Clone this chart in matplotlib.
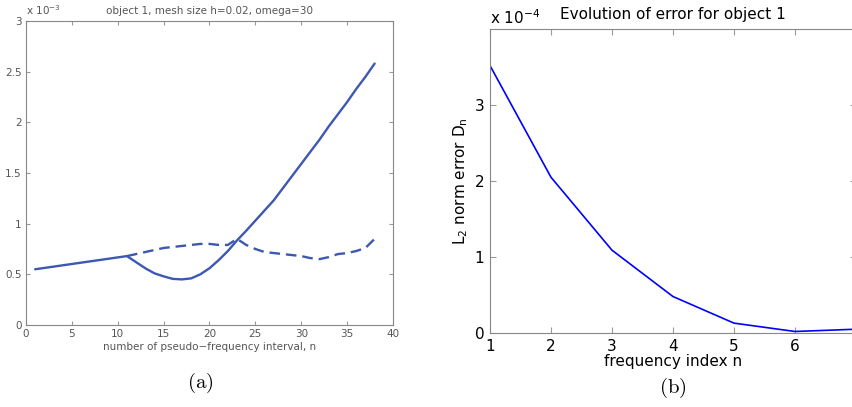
import numpy as np
import matplotlib.pyplot as plt

# panel (a): error vs pseudo-frequency interval (units of 1e-3)
n_a = np.arange(1, 39)
err_full = [0.550, 0.563, 0.576, 0.589, 0.602, 0.615, 0.628, 0.641, 0.654, 0.667,
            0.680, 0.620, 0.560, 0.510, 0.480, 0.455, 0.450, 0.460, 0.500, 0.560,
            0.640, 0.730, 0.835, 0.930, 1.030, 1.130, 1.230, 1.350, 1.470, 1.590,
            1.710, 1.830, 1.960, 2.080, 2.200, 2.330, 2.450, 2.580]
n_dash = np.arange(11, 39)
err_dash = [0.680, 0.700, 0.720, 0.740, 0.760, 0.770, 0.780, 0.790, 0.800, 0.800,
            0.790, 0.790, 0.850, 0.790, 0.750, 0.720, 0.710, 0.700, 0.690, 0.680,
            0.660, 0.650, 0.670, 0.700, 0.710, 0.730, 0.760, 0.850]

# panel (b): L2 error per frequency index (units of 1e-4)
n_b = [1, 2, 3, 4, 5, 6, 7]
err_b = [3.52, 2.05, 1.09, 0.48, 0.13, 0.02, 0.05]
b_ticklabels = ['1', '2', '3', '4', '5', '6', '']

fig = plt.figure(figsize=(8.53, 4.07), dpi=100)

grey = '#555555'
ax1 = fig.add_axes([0.0305, 0.2015, 0.4302, 0.7469])
ax1.plot(n_a, err_full, color='#3d58b0', lw=1.7, solid_capstyle='round')
ax1.plot(n_dash, err_dash, color='#3d58b0', lw=1.7, ls=(0, (4.5, 2.5)))
ax1.set_xlim(0, 40)
ax1.set_ylim(0, 3)
ax1.set_xticks(range(0, 41, 5))
ax1.set_yticks([0, 0.5, 1, 1.5, 2, 2.5, 3])
ax1.set_yticklabels(['0', '0.5', '1', '1.5', '2', '2.5', '3'])
ax1.tick_params(direction='in', top=True, right=True, labelsize=7.5,
                colors='#999999', labelcolor=grey, length=3, pad=3)
for s in ax1.spines.values():
    s.set_color('#888888')
ax1.set_title('object 1, mesh size h=0.02, omega=30', fontsize=7.5, color=grey, pad=5)
ax1.set_xlabel('number of pseudo\u2212frequency interval, n', fontsize=7.5, color=grey, labelpad=2)
ax1.text(0.0, 1.012, r'x 10$^{-3}$', transform=ax1.transAxes, fontsize=7.5, color=grey,
         ha='left', va='bottom')

ax2 = fig.add_axes([0.5744, 0.1818, 0.4291, 0.7469])
ax2.plot(n_b, err_b, color='#0000ff', lw=1.2)
ax2.set_xlim(1, 7)
ax2.set_ylim(0, 4)
ax2.set_xticks(n_b)
ax2.set_xticklabels(b_ticklabels)
ax2.set_yticks([0, 1, 2, 3])
ax2.tick_params(direction='in', top=True, right=True, labelsize=11,
                colors='#999999', labelcolor='black', length=4, pad=4)
for s in ax2.spines.values():
    s.set_color('#888888')
ax2.set_title('Evolution of error for object 1', fontsize=11, pad=7)
ax2.set_xlabel('frequency index n', fontsize=11, labelpad=0)
ax2.set_ylabel(r'L$_2$ norm error D$_\mathrm{n}$', fontsize=11, labelpad=3)
ax2.text(0.0, 1.005, r'x 10$^{-4}$', transform=ax2.transAxes, fontsize=11,
         ha='left', va='bottom')

# subfigure captions in Computer Modern
fig.text(0.2345, 0.06, r'$\mathrm{(a)}$', fontsize=15, ha='center', va='center',
         math_fontfamily='cm')
fig.text(0.789, 0.047, r'$\mathrm{(b)}$', fontsize=15, ha='center', va='center',
         math_fontfamily='cm')

fig.savefig('out.png', dpi=100)
